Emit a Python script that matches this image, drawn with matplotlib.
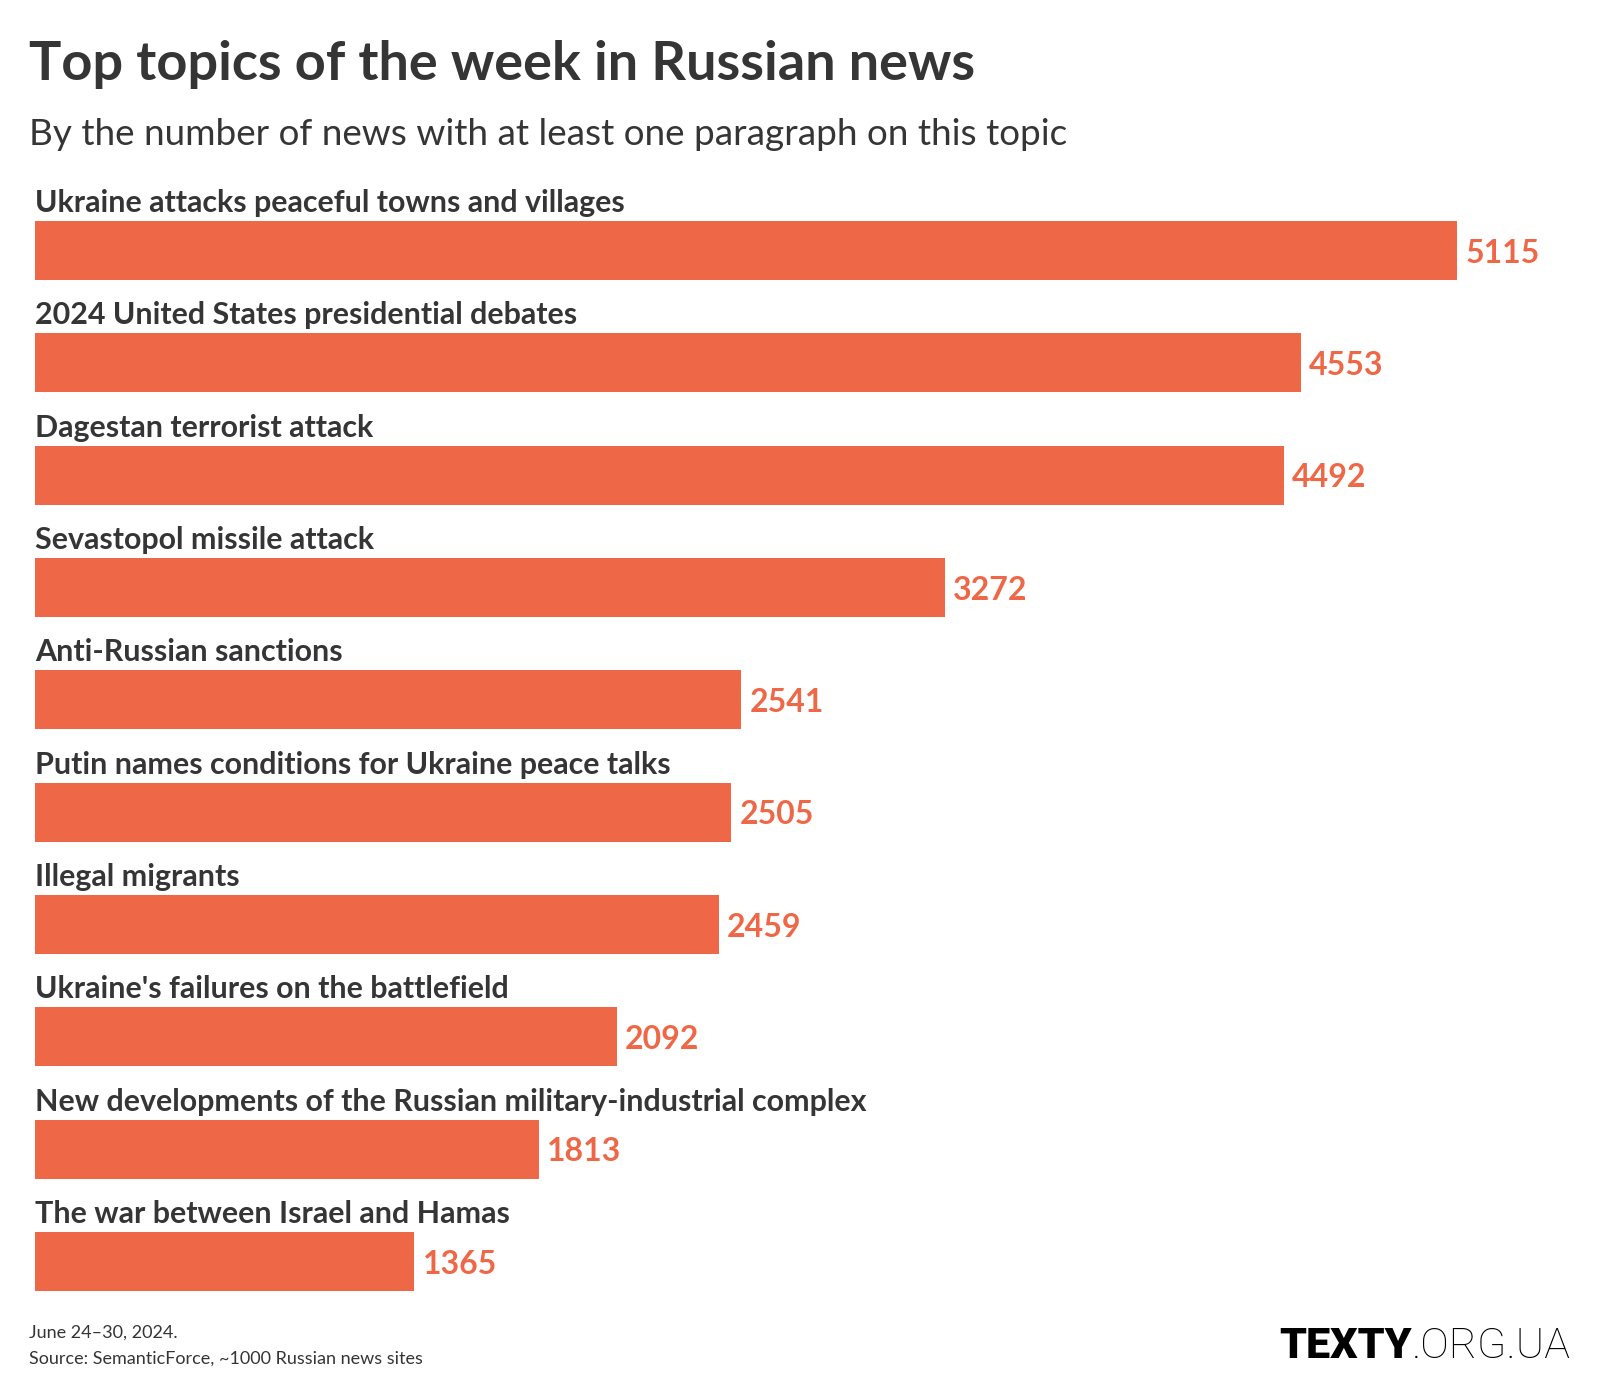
import matplotlib
matplotlib.use("Agg")
import matplotlib.pyplot as plt

topics = [
    "Ukraine attacks peaceful towns and villages",
    "2024 United States presidential debates",
    "Dagestan terrorist attack",
    "Sevastopol missile attack",
    "Anti-Russian sanctions",
    "Putin names conditions for Ukraine peace talks",
    "Illegal migrants",
    "Ukraine's failures on the battlefield",
    "New developments of the Russian military-industrial complex",
    "The war between Israel and Hamas",
]
counts = [5115, 4553, 4492, 3272, 2541, 2505, 2459, 2092, 1813, 1365]

title = "Top topics of the week in Russian news"
subtitle = "By the number of news with at least one paragraph on this topic"
note = "June 24\u201330, 2024."
source = "Source: SemanticForce, ~1000 Russian news sites"

BAR = "#ee6746"
INK = "#353535"
W, H = 1600, 1400
plt.rcParams["font.family"] = ["Lato", "DejaVu Sans"]

fig = plt.figure(figsize=(16, 14), dpi=100)
fig.patch.set_facecolor("white")

# axes spans from first bar top to last bar bottom, x from 0 to max
left, right = 35, 1457
top, bottom = 221, 1291
ax = fig.add_axes([left / W, 1 - bottom / H, (right - left) / W, (bottom - top) / H])
n = len(topics)
bh = 0.526
ax.barh(range(n), counts, height=bh, color=BAR)
ax.set_xlim(0, max(counts))
ax.set_ylim(n - 1 + bh / 2, -bh / 2)
ax.axis("off")

gap = 9 / 112.3
for i, (t, v) in enumerate(zip(topics, counts)):
    ax.text(0, i - bh / 2 - gap, t, ha="left", va="baseline", fontsize=21.9,
            fontweight="bold", color=INK, clip_on=False)
    ax.annotate(str(v), (v, i), xytext=(6, -2), textcoords="offset points",
                ha="left", va="center", fontsize=23, fontweight="bold",
                color=BAR, annotation_clip=False)

fig.text(29 / W, 1 - 80 / H, title, ha="left", va="baseline", fontsize=39,
         fontweight="bold", color=INK)
fig.text(29 / W, 1 - 145 / H, subtitle, ha="left", va="baseline", fontsize=26.6,
         color=INK)
fig.text(29 / W, 1 - 1338 / H, note, ha="left", va="baseline", fontsize=13,
         color=INK)
fig.text(29 / W, 1 - 1364 / H, source, ha="left", va="baseline", fontsize=13,
         color=INK)

# logo: bold part + light part, right aligned
fig.canvas.draw()
r = fig.canvas.get_renderer()
tail = fig.text(1571 / W, 1 - 1358 / H, ".ORG.UA", ha="right", va="baseline",
                fontsize=31, fontweight="light", color="black",
                family=["Roboto", "DejaVu Sans"])
bb = tail.get_window_extent(renderer=r)
fig.text(bb.x0 / W, 1 - 1358 / H, "TEXTY", ha="right", va="baseline",
         fontsize=31, fontweight="heavy", color="black",
         family=["Roboto", "DejaVu Sans"])

fig.savefig("out.png", dpi=100, facecolor="white")
